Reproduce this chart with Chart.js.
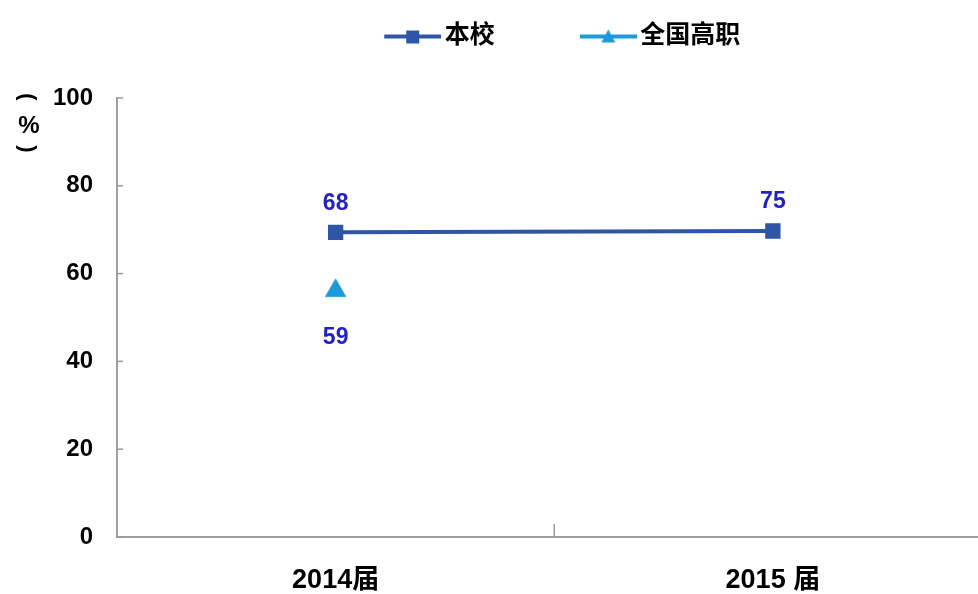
<!DOCTYPE html>
<html><head><meta charset="utf-8">
<script src="https://cdn.jsdelivr.net/npm/chart.js@4/dist/chart.umd.min.js"></script>
<style>html,body{margin:0;padding:0;background:#fff;overflow:hidden;width:978px;height:594px}#wrap{position:relative;width:1004px;height:594px}</style>
</head><body><div id="wrap"><canvas id="c"></canvas></div>
<script>
const categories = ['2014届', '2015 届'];
const schoolValues = [69.4, 69.7];
const schoolLabels = ['68', '75'];
const nationalValues = [56.1, null];
const nationalLabels = ['59', ''];
const yTicks = [0, 20, 40, 60, 80, 100];
const seriesNames = ['本校', '全国高职'];

const FONT = "'Liberation Sans', 'Noto Sans CJK SC', sans-serif";
const SCHOOL_COLOR = '#2f56a6';
const NATIONAL_COLOR = '#1d9ad8';
const LABEL_COLOR = '#2222c4';

function legendIcon(color, shape) {
  const cv = document.createElement('canvas');
  cv.width = 66; cv.height = 16;
  const g = cv.getContext('2d');
  g.strokeStyle = color; g.lineWidth = 4;
  g.beginPath(); g.moveTo(9, 8); g.lineTo(66, 8); g.stroke();
  g.fillStyle = color;
  if (shape === 'rect') { g.fillRect(31, 2, 13, 13); }
  else { g.beginPath(); g.moveTo(37.5, 1); g.lineTo(44.5, 14); g.lineTo(30.5, 14); g.closePath(); g.fill(); }
  return cv;
}

const dataLabelPlugin = {
  id: 'dataLabels',
  afterDatasetsDraw(chart) {
    const ctx = chart.ctx;
    const sets = [{ labels: schoolLabels, dy: -29 }, { labels: nationalLabels, dy: 47 }];
    ctx.save();
    ctx.font = 'bold 23px ' + FONT;
    ctx.fillStyle = LABEL_COLOR;
    ctx.textAlign = 'center'; ctx.textBaseline = 'middle';
    sets.forEach((s, di) => {
      const meta = chart.getDatasetMeta(di);
      meta.data.forEach((pt, i) => {
        if (!s.labels[i] || pt.skip) return;
        ctx.fillText(s.labels[i], pt.x, pt.y + s.dy);
      });
    });
    ctx.restore();
  }
};

const axisExtrasPlugin = {
  id: 'axisExtras',
  afterDraw(chart) {
    const ctx = chart.ctx;
    const x = chart.scales.x, y = chart.scales.y;
    const mid = (x.getPixelForValue(0) + x.getPixelForValue(1)) / 2;
    ctx.save();
    ctx.strokeStyle = '#999'; ctx.lineWidth = 1.5;
    ctx.beginPath(); ctx.moveTo(mid, y.bottom); ctx.lineTo(mid, y.bottom - 13); ctx.stroke();
    yTicks.forEach(v => {
      const py = y.getPixelForValue(v);
      ctx.beginPath(); ctx.moveTo(x.left, py); ctx.lineTo(x.left + 6, py); ctx.stroke();
    });
    // y title (vertical)
    ctx.fillStyle = '#000';
    ctx.textAlign = 'center'; ctx.textBaseline = 'middle';
    const tx = 27, ty = chart.chartArea.top;
    ctx.font = 'bold 22px ' + FONT;
    ctx.save(); ctx.translate(tx, ty - 1); ctx.rotate(Math.PI / 2); ctx.fillText('(', 0, 0); ctx.restore();
    ctx.font = 'bold 24px ' + FONT;
    ctx.fillText('%', tx + 2, ty + 28);
    ctx.font = 'bold 22px ' + FONT;
    ctx.save(); ctx.translate(tx, ty + 51); ctx.rotate(Math.PI / 2); ctx.fillText(')', 0, 0); ctx.restore();
    ctx.restore();
  }
};

const legendSpacePlugin = {
  id: 'legendSpace',
  beforeInit(chart) {
    const orig = chart.legend.fit;
    chart.legend.fit = function () { orig.call(this); this.height += 39; };
  },
  afterLayout(chart) {
    chart.legend.left += 8; chart.legend.right += 8;
  }
};

new Chart(document.getElementById('c'), {
  type: 'line',
  data: {
    labels: categories,
    datasets: [
      { label: seriesNames[0], data: schoolValues, borderColor: SCHOOL_COLOR, backgroundColor: SCHOOL_COLOR,
        borderWidth: 4, pointStyle: 'rect', pointRadius: 8, pointHoverRadius: 8, pointBorderWidth: 4, fill: false, tension: 0 },
      { label: seriesNames[1], data: nationalValues, borderColor: NATIONAL_COLOR, backgroundColor: NATIONAL_COLOR,
        borderWidth: 4, pointStyle: 'triangle', pointRadius: 12, pointHoverRadius: 12, pointBorderWidth: 0.5, fill: false, showLine: false }
    ]
  },
  options: {
    responsive: true, maintainAspectRatio: false, animation: false,
    layout: { padding: { left: 29, right: 0, top: 14, bottom: 0 } },
    plugins: {
      tooltip: { enabled: false },
      legend: {
        position: 'top', fullSize: false,
        labels: {
          usePointStyle: true, pointStyleWidth: 48, padding: 10, color: '#000',
          font: { family: FONT, size: 25, weight: 'bold' },
          generateLabels(chart) {
            const icons = [legendIcon(SCHOOL_COLOR, 'rect'), legendIcon(NATIONAL_COLOR, 'tri')];
            return chart.data.datasets.map((ds, i) => ({
              text: i === 0 ? ds.label + '\u3000\u3000\u3000' : ds.label,
              pointStyle: icons[i], fillStyle: 'transparent', strokeStyle: 'transparent', lineWidth: 0,
              fontColor: '#000', datasetIndex: i, hidden: false
            }));
          }
        }
      }
    },
    scales: {
      x: {
        offset: true,
        afterFit(scale) { scale.height = 57; },
        grid: { display: false, drawTicks: false },
        border: { display: true, color: '#a0a0a0', width: 2 },
        ticks: { color: '#000', padding: 27, font: { family: FONT, size: 27, weight: 'bold' } }
      },
      y: {
        min: 0, max: 100,
        afterBuildTicks(scale) { scale.ticks = yTicks.map(v => ({ value: v })); },
        afterFit(scale) { scale.width = 88; },
        grid: { display: false, drawTicks: false },
        border: { display: true, color: '#a0a0a0', width: 2 },
        ticks: { color: '#000', padding: 24, font: { family: FONT, size: 24, weight: 'bold' } }
      }
    }
  },
  plugins: [dataLabelPlugin, axisExtrasPlugin, legendSpacePlugin]
});
</script></body></html>
